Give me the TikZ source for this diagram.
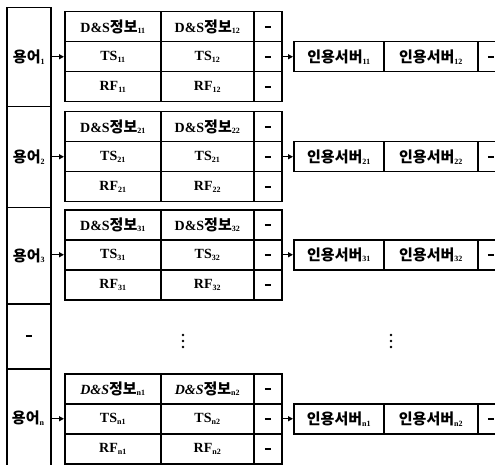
\documentclass[tikz,border=0pt]{standalone}
\usepackage{fontspec}
\setmainfont{Liberation Serif}
\newfontfamily\kr{Noto Sans CJK KR}
\usetikzlibrary{arrows.meta}
\newcommand\sbs[1]{\raisebox{-0.4ex}{\fontsize{8}{8}\selectfont\bfseries #1}}
\newcommand\lat[1]{{\fontsize{14}{14}\selectfont\bfseries #1}}
\newcommand\han[1]{{\kr\fontsize{15}{15}\selectfont\bfseries #1}}
\newcommand\dsi[1]{\lat{D\&S}\han{정보}\sbs{#1}}
\newcommand\dsit[1]{\lat{\itshape D\&S}\han{정보}\sbs{#1}}
\newcommand\tsi[1]{\lat{TS}\sbs{#1}}
\newcommand\rfi[1]{\lat{RF}\sbs{#1}}
\newcommand\srvi[1]{\han{인용서버}\sbs{#1}}
\newcommand\term[1]{\han{용어}\sbs{#1}}
\newcommand\dsh{\rule[-0.5pt]{6pt}{1.8pt}}
\tikzset{
  cell/.style={draw, line width=1.5pt, inner sep=0pt, anchor=north west, minimum height=30pt},
  ca/.style={cell, minimum width=96pt},
  cb/.style={cell, minimum width=93pt},
  cc/.style={cell, minimum width=28pt},
  sa/.style={cell, minimum width=90pt},
  sb/.style={cell, minimum width=94pt},
  sc/.style={cell, minimum width=26pt},
  lcell/.style={draw, line width=1.5pt, inner sep=0pt, anchor=north west, minimum width=44pt},
  arr/.style={line width=1.2pt, -{Triangle[length=5pt,width=5pt]}},
  dot/.style={circle, fill, inner sep=0pt, minimum size=2.8pt}
}
% #1 name, #2 top, #3 ds1, #4 ds2, #5 ts1, #6 ts2, #7 rf1, #8 rf2
\newcommand\tgrp[8]{%
  \node[ca] (#1a1) at (64,#2) {#3};
  \node[cb] (#1b1) at (160,#2) {#4};
  \node[cc] (#1c1) at (253,#2) {\dsh};
  \node[ca] (#1a2) at (64,#2+30) {#5};
  \node[cb] (#1b2) at (160,#2+30) {#6};
  \node[cc] (#1c2) at (253,#2+30) {\dsh};
  \node[ca] (#1a3) at (64,#2+60) {#7};
  \node[cb] (#1b3) at (160,#2+60) {#8};
  \node[cc] (#1c3) at (253,#2+60) {\dsh};
}
% #1 name, #2 top, #3 s1, #4 s2
\newcommand\sgrp[4]{%
  \node[sa] (#1sa) at (293,#2) {#3};
  \node[sb] (#1sb) at (383,#2) {#4};
  \node[sc] (#1sc) at (477,#2) {\dsh};
}
\begin{document}
\begin{tikzpicture}[x=1pt,y=-1pt]
\clip (0,0) rectangle (495,465);
\fill[white] (0,0) rectangle (495,465);
% left column
\node[lcell, minimum height=99pt] (L1) at (6,7) {\term{1}};
\node[lcell, minimum height=101pt] (L2) at (6,106) {\term{2}};
\node[lcell, minimum height=96pt] (L3) at (6,207) {\term{3}};
\node[lcell, minimum height=65pt] (Ld) at (6,303) {\dsh};
\node[lcell, minimum height=104pt] (Ln) at (6,368) {};
\node (Lnt) at (28,418) {\term{n}};
% tables
\tgrp{A}{11}{\dsi{11}}{\dsi{12}}{\tsi{11}}{\tsi{12}}{\rfi{11}}{\rfi{12}}
\tgrp{B}{111}{\dsi{21}}{\dsi{22}}{\tsi{21}}{\tsi{21}}{\rfi{21}}{\rfi{22}}
\tgrp{C}{209}{\dsi{31}}{\dsi{32}}{\tsi{31}}{\tsi{32}}{\rfi{31}}{\rfi{32}}
\tgrp{N}{373}{\dsit{n1}}{\dsit{n2}}{\tsi{n1}}{\tsi{n2}}{\rfi{n1}}{\rfi{n2}}
% servers
\sgrp{A}{41}{\srvi{11}}{\srvi{12}}
\sgrp{B}{141}{\srvi{21}}{\srvi{22}}
\sgrp{C}{239}{\srvi{31}}{\srvi{32}}
\sgrp{N}{403}{\srvi{n1}}{\srvi{n2}}
% arrows
\foreach \g/\l in {A/L1,B/L2,C/L3,N/Ln}{
  \draw[arr] (\l.east |- \g a2.west) -- (\g a2.west);
  \draw[arr] (\g c2.east) -- (\g sa.west |- \g c2.east);
}
% vertical dots
\foreach \x in {183,391}{
  \foreach \y in {335,341,347} \node[dot] at (\x,\y) {};
}
\end{tikzpicture}
\end{document}
